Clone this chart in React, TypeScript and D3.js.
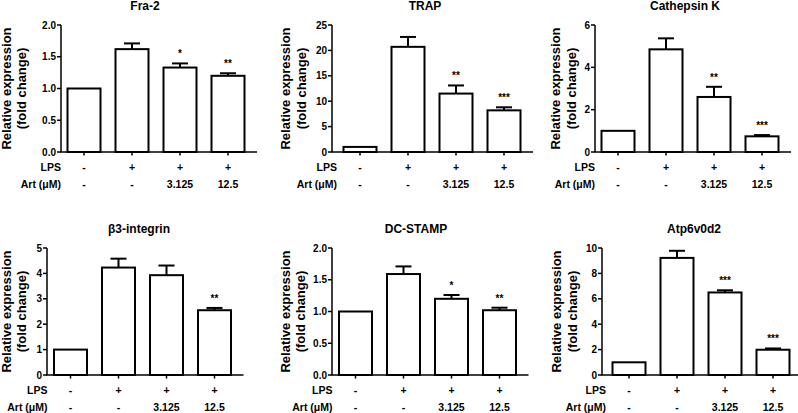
import React from "react";
import * as d3 from "d3";

// ---- data ----
const genes = ["Fra-2", "TRAP", "Cathepsin K", "β3-integrin", "DC-STAMP", "Atp6v0d2"];
const groups = ["Control", "LPS", "LPS + Art 3.125", "LPS + Art 12.5"];
const lpsRow = ["-", "+", "+", "+"];
const artRow = ["-", "-", "3.125", "12.5"];

const fra2Mean = [1.0, 1.62, 1.33, 1.2];
const fra2Err = [0, 0.09, 0.065, 0.04];
const fra2Stars = ["", "", "*", "**"];
const fra2Ticks = ["0.0", "0.5", "1.0", "1.5", "2.0"];

const trapMean = [1.0, 20.7, 11.5, 8.2];
const trapErr = [0, 1.95, 1.6, 0.6];
const trapStars = ["", "", "**", "***"];
const trapTicks = ["0", "5", "10", "15", "20", "25"];

const ctskMean = [1.0, 4.85, 2.6, 0.74];
const ctskErr = [0, 0.52, 0.48, 0.06];
const ctskStars = ["", "", "**", "***"];
const ctskTicks = ["0", "2", "4", "6"];

const itgb3Mean = [1.0, 4.23, 3.93, 2.55];
const itgb3Err = [0, 0.35, 0.38, 0.09];
const itgb3Stars = ["", "", "", "**"];
const itgb3Ticks = ["0", "1", "2", "3", "4", "5"];

const dcstampMean = [1.0, 1.59, 1.2, 1.02];
const dcstampErr = [0, 0.12, 0.06, 0.04];
const dcstampStars = ["", "", "*", "**"];
const dcstampTicks = ["0.0", "0.5", "1.0", "1.5", "2.0"];

const atpMean = [1.0, 9.22, 6.5, 1.99];
const atpErr = [0, 0.56, 0.17, 0.1];
const atpStars = ["", "", "***", "***"];
const atpTicks = ["0", "2", "4", "6", "8", "10"];

const means = [fra2Mean, trapMean, ctskMean, itgb3Mean, dcstampMean, atpMean];
const errs = [fra2Err, trapErr, ctskErr, itgb3Err, dcstampErr, atpErr];
const stars = [fra2Stars, trapStars, ctskStars, itgb3Stars, dcstampStars, atpStars];
const tickLabels = [fra2Ticks, trapTicks, ctskTicks, itgb3Ticks, dcstampTicks, atpTicks];

// ---- layout (positions only) ----
const layout = [
  { axisX: 61, bandStart: 60, top: 25, bottom: 152, titleX: 145, labelX: 10.5 },
  { axisX: 332, bandStart: 336, top: 25, bottom: 152, titleX: 425, labelX: 290 },
  { axisX: 595, bandStart: 594, top: 25, bottom: 152, titleX: 685, labelX: 560 },
  { axisX: 47, bandStart: 46.5, top: 248, bottom: 375, titleX: 139, labelX: 10.5 },
  { axisX: 332, bandStart: 331.5, top: 248, bottom: 375, titleX: 416, labelX: 289.5 },
  { axisX: 602, bandStart: 605, top: 248, bottom: 375, titleX: 694, labelX: 561 },
];

const FONT = "'Liberation Sans', Arial, Helvetica, sans-serif";

function Panel({ idx }: { idx: number }) {
  const L = layout[idx];
  const ticks = tickLabels[idx].map((t) => +t);
  const yMax = ticks[ticks.length - 1];
  const y = d3.scaleLinear().domain([0, yMax]).range([L.bottom, L.top]);
  const x = d3
    .scaleBand<number>()
    .domain(groups.map((_, i) => i))
    .range([L.bandStart, L.bandStart + 192])
    .paddingInner(0.3125)
    .paddingOuter(0.15625);
  const bw = x.bandwidth();
  const xEnd = L.bandStart + 197;
  const cy = (L.top + L.bottom) / 2;
  return (
    <g fontFamily={FONT} fontWeight="bold" fill="#000">
      <text x={L.titleX} y={L.top - 15} textAnchor="middle" fontSize={12}>
        {genes[idx]}
      </text>
      {/* y label */}
      <text
        transform={`translate(${L.labelX},${cy}) rotate(-90)`}
        textAnchor="middle"
        fontSize={13}
      >
        Relative expression
      </text>
      <text
        transform={`translate(${L.labelX + 15.5},${cy}) rotate(-90)`}
        textAnchor="middle"
        fontSize={13}
      >
        (fold change)
      </text>
      {/* bars */}
      {means[idx].map((v, i) => {
        const x0 = x(i)!;
        const cx = x0 + bw / 2;
        const e = errs[idx][i];
        const yTop = y(v);
        const yErr = y(v + e);
        return (
          <g key={i}>
            {e > 0 && (
              <g stroke="#000" strokeWidth={2}>
                <line x1={cx} x2={cx} y1={yTop} y2={yErr} />
                <line x1={cx - 8} x2={cx + 8} y1={yErr} y2={yErr} />
              </g>
            )}
            <rect
              x={x0}
              y={yTop}
              width={bw}
              height={L.bottom - yTop}
              fill="#fff"
              stroke="#000"
              strokeWidth={2}
            />
            {stars[idx][i] && (
              <text x={cx} y={yErr - 6} textAnchor="middle" fontSize={10}>
                {stars[idx][i]}
              </text>
            )}
            <line x1={cx} x2={cx} y1={L.bottom} y2={L.bottom + 3.5} stroke="#000" strokeWidth={1.5} />
            <text x={cx} y={L.bottom + 18.5} textAnchor="middle" fontSize={10.5}>
              {lpsRow[i]}
            </text>
            <text x={cx} y={L.bottom + 35.5} textAnchor="middle" fontSize={10.5}>
              {artRow[i]}
            </text>
          </g>
        );
      })}
      {/* axes */}
      <line x1={L.axisX} x2={L.axisX} y1={L.top} y2={L.bottom} stroke="#000" strokeWidth={1.5} />
      <line x1={L.axisX - 0.75} x2={xEnd} y1={L.bottom} y2={L.bottom} stroke="#000" strokeWidth={1.5} />
      {ticks.map((t, k) => (
        <g key={k}>
          <line x1={L.axisX - 4} x2={L.axisX} y1={y(t)} y2={y(t)} stroke="#000" strokeWidth={1.5} />
          <text x={L.axisX - 5} y={y(t) + 3.6} textAnchor="end" fontSize={10}>
            {tickLabels[idx][k]}
          </text>
        </g>
      ))}
      <text x={L.bandStart + 1} y={L.bottom + 18.5} textAnchor="end" fontSize={10.5}>
        LPS
      </text>
      <text x={L.bandStart + 1} y={L.bottom + 35.5} textAnchor="end" fontSize={10.5}>
        Art (μM)
      </text>
    </g>
  );
}

export default function App() {
  return (
    <svg
      width={798}
      height={413}
      style={{ position: "absolute", left: 0, top: 0, background: "#fff" }}
    >
      <rect width={798} height={413} fill="#fff" />
      {genes.map((_, i) => (
        <Panel key={i} idx={i} />
      ))}
    </svg>
  );
}
